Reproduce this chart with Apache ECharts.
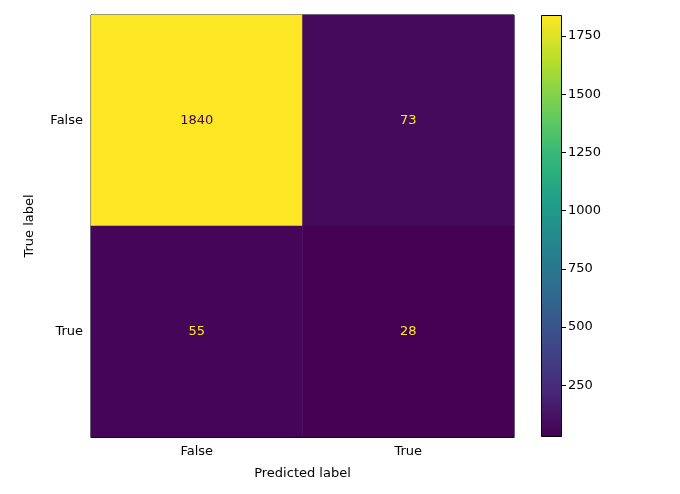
<!DOCTYPE html><html><head><meta charset="utf-8">
<script src="https://cdn.jsdelivr.net/npm/echarts@6/dist/echarts.min.js"></script></head>
<body style="margin:0"><div id="c" style="width:680px;height:494px"></div>
<script>
const predLabels=['False','True'];
const trueLabels=['False','True'];
const matrix=[[1840,73],[55,28]];
const cbTicks=[250,500,750,1000,1250,1500,1750];
const viridis=['#440154','#482878','#3e4989','#31688e','#26828e','#1f9e89','#35b779','#6ece58','#b5de2b','#fde725'];
const vmin=28,vmax=1840;
const data=[];
matrix.forEach((r,i)=>r.forEach((v,j)=>data.push([j,i,v])));
const ch=echarts.init(document.getElementById('c'));
const f='DejaVu Sans';
ch.setOption({
 textStyle:{fontFamily:f},
 grid:[{left:91,right:166,top:15,bottom:57},{left:541,width:21,top:15,bottom:494-437-vmin/(vmax-vmin)*422}],
 xAxis:[{type:'category',data:predLabels,gridIndex:0,name:'Predicted label',nameLocation:'middle',nameGap:30,
   nameTextStyle:{fontSize:13,color:'#000'},axisLine:{show:true,lineStyle:{color:'#000'}},axisTick:{alignWithLabel:true,lineStyle:{color:'#000'}},axisLabel:{fontSize:13,color:'#000'},splitLine:{show:false}},
  {type:'category',data:['c'],gridIndex:1,show:false}],
 yAxis:[{type:'category',data:trueLabels,inverse:true,gridIndex:0,name:'True label',nameLocation:'middle',nameGap:55,
   nameTextStyle:{fontSize:13,color:'#000'},axisLine:{show:true,lineStyle:{color:'#000'}},axisTick:{alignWithLabel:true,lineStyle:{color:'#000'}},axisLabel:{fontSize:13,color:'#000'}},
  {type:'value',gridIndex:1,min:0,max:vmax,interval:250,position:'right',splitLine:{show:false},
   axisLine:{show:false},axisTick:{show:true,length:4,lineStyle:{color:'#000'}},
   axisLabel:{fontSize:13,color:'#000',showMinLabel:false,showMaxLabel:false,margin:6,formatter:v=>cbTicks.includes(v)?v:''}}],
 visualMap:{show:false,seriesIndex:0,min:vmin,max:vmax,inRange:{color:viridis}},
 series:[
  {type:'heatmap',data:data,xAxisIndex:0,yAxisIndex:0,
   label:{show:true,fontSize:13,fontFamily:f,formatter:p=>p.value[2],color:'#fde725',
     rich:{}},
   itemStyle:{borderWidth:0}},
  {type:'bar',xAxisIndex:1,yAxisIndex:1,stack:'cb',data:[vmin],barWidth:'100%',itemStyle:{color:'transparent'},silent:true},
  {type:'bar',xAxisIndex:1,yAxisIndex:1,stack:'cb',data:[vmax-vmin],barWidth:'100%',silent:true,
   itemStyle:{borderColor:'#000',borderWidth:1,color:new echarts.graphic.LinearGradient(0,1,0,0,viridis.map((c,i)=>({offset:i/(viridis.length-1),color:c})))}}
 ]
});
const opt=ch.getOption();
opt.series[0].data=data.map(d=>({value:d,label:{color:d[2]>1000?'#440154':'#fde725'}}));
ch.setOption({series:opt.series});
ch.setOption({graphic:[{type:'rect',shape:{x:91,y:15,width:423,height:422},style:{fill:'none',stroke:'#000',lineWidth:1}}]});
</script></body></html>
